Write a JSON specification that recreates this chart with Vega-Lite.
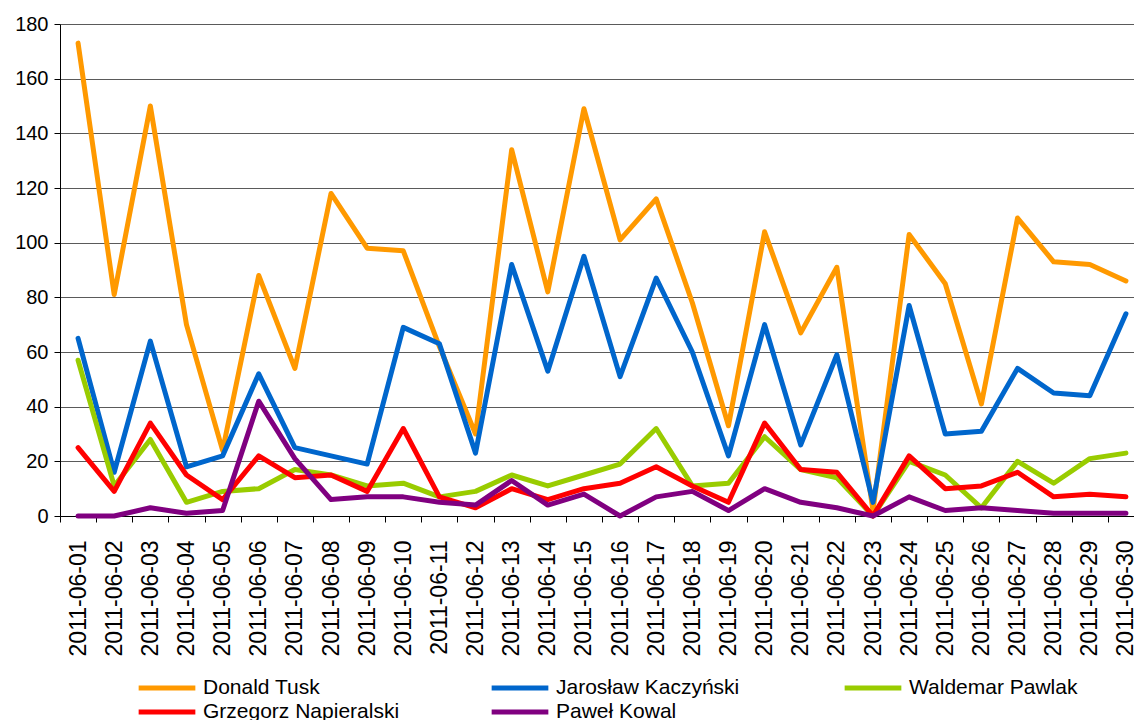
{
  "$schema": "https://vega.github.io/schema/vega-lite/v6.json",
  "width": 1074,
  "height": 492,
  "autosize": {"type": "none"},
  "padding": {"left": 60, "top": 24, "right": 0, "bottom": 204},
  "background": "white",
  "config": {"view": {"stroke": null}, "font": "Liberation Sans"},
  "datasets": {
    "raw": [
      {"date": "2011-06-01", "tusk": 173, "kacz": 65, "pawlak": 57, "napi": 25, "kowal": 0},
      {"date": "2011-06-02", "tusk": 81, "kacz": 16, "pawlak": 11, "napi": 9, "kowal": 0},
      {"date": "2011-06-03", "tusk": 150, "kacz": 64, "pawlak": 28, "napi": 34, "kowal": 3},
      {"date": "2011-06-04", "tusk": 70, "kacz": 18, "pawlak": 5, "napi": 15, "kowal": 1},
      {"date": "2011-06-05", "tusk": 24, "kacz": 22, "pawlak": 9, "napi": 6, "kowal": 2},
      {"date": "2011-06-06", "tusk": 88, "kacz": 52, "pawlak": 10, "napi": 22, "kowal": 42},
      {"date": "2011-06-07", "tusk": 54, "kacz": 25, "pawlak": 17, "napi": 14, "kowal": 21},
      {"date": "2011-06-08", "tusk": 118, "kacz": 22, "pawlak": 15, "napi": 15, "kowal": 6},
      {"date": "2011-06-09", "tusk": 98, "kacz": 19, "pawlak": 11, "napi": 9, "kowal": 7},
      {"date": "2011-06-10", "tusk": 97, "kacz": 69, "pawlak": 12, "napi": 32, "kowal": 7},
      {"date": "2011-06-11", "tusk": 62, "kacz": 63, "pawlak": 7, "napi": 7, "kowal": 5},
      {"date": "2011-06-12", "tusk": 30, "kacz": 23, "pawlak": 9, "napi": 3, "kowal": 4},
      {"date": "2011-06-13", "tusk": 134, "kacz": 92, "pawlak": 15, "napi": 10, "kowal": 13},
      {"date": "2011-06-14", "tusk": 82, "kacz": 53, "pawlak": 11, "napi": 6, "kowal": 4},
      {"date": "2011-06-15", "tusk": 149, "kacz": 95, "pawlak": 15, "napi": 10, "kowal": 8},
      {"date": "2011-06-16", "tusk": 101, "kacz": 51, "pawlak": 19, "napi": 12, "kowal": 0},
      {"date": "2011-06-17", "tusk": 116, "kacz": 87, "pawlak": 32, "napi": 18, "kowal": 7},
      {"date": "2011-06-18", "tusk": 78, "kacz": 60, "pawlak": 11, "napi": 11, "kowal": 9},
      {"date": "2011-06-19", "tusk": 33, "kacz": 22, "pawlak": 12, "napi": 5, "kowal": 2},
      {"date": "2011-06-20", "tusk": 104, "kacz": 70, "pawlak": 29, "napi": 34, "kowal": 10},
      {"date": "2011-06-21", "tusk": 67, "kacz": 26, "pawlak": 17, "napi": 17, "kowal": 5},
      {"date": "2011-06-22", "tusk": 91, "kacz": 59, "pawlak": 14, "napi": 16, "kowal": 3},
      {"date": "2011-06-23", "tusk": 2, "kacz": 5, "pawlak": 0, "napi": 0, "kowal": 0},
      {"date": "2011-06-24", "tusk": 103, "kacz": 77, "pawlak": 20, "napi": 22, "kowal": 7},
      {"date": "2011-06-25", "tusk": 85, "kacz": 30, "pawlak": 15, "napi": 10, "kowal": 2},
      {"date": "2011-06-26", "tusk": 41, "kacz": 31, "pawlak": 3, "napi": 11, "kowal": 3},
      {"date": "2011-06-27", "tusk": 109, "kacz": 54, "pawlak": 20, "napi": 16, "kowal": 2},
      {"date": "2011-06-28", "tusk": 93, "kacz": 45, "pawlak": 12, "napi": 7, "kowal": 1},
      {"date": "2011-06-29", "tusk": 92, "kacz": 44, "pawlak": 21, "napi": 8, "kowal": 1},
      {"date": "2011-06-30", "tusk": 86, "kacz": 74, "pawlak": 23, "napi": 7, "kowal": 1}
    ]
  },
  "data": {"name": "raw"},
  "transform": [
    {"fold": ["tusk", "kacz", "pawlak", "napi", "kowal"], "as": ["key", "value"]},
    {"lookup": "key", "from": {"data": {"values": [
      {"key": "tusk", "name": "Donald Tusk"},
      {"key": "kacz", "name": "Jarosław Kaczyński"},
      {"key": "pawlak", "name": "Waldemar Pawlak"},
      {"key": "napi", "name": "Grzegorz Napieralski"},
      {"key": "kowal", "name": "Paweł Kowal"}
    ]}, "key": "key", "fields": ["name"]}}
  ],
  "mark": {"type": "line", "strokeWidth": 5, "strokeJoin": "round", "strokeCap": "round"},
  "encoding": {
    "x": {
      "field": "date",
      "type": "ordinal",
      "sort": null,
      "scale": {"type": "band", "range": [0, 1084], "paddingInner": 0, "paddingOuter": 0},
      "axis": {
        "title": null,
        "labelAngle": -90,
        "labelAlign": "right",
        "labelBaseline": "middle",
        "labelFontSize": 23,
        "labelFont": "Liberation Sans",
        "labelColor": "black",
        "labelPadding": 18,
        "tickBand": "extent",
        "tickSize": 6,
        "tickColor": "black",
        "domainColor": "black",
        "grid": false
      }
    },
    "y": {
      "field": "value",
      "type": "quantitative",
      "scale": {"domain": [0, 180], "nice": false},
      "axis": {
        "title": null,
        "values": [0, 20, 40, 60, 80, 100, 120, 140, 160, 180],
        "labelFontSize": 20,
        "labelFont": "Liberation Sans",
        "labelColor": "black",
        "labelPadding": 6,
        "tickSize": 6,
        "tickColor": "black",
        "domainColor": "black",
        "grid": true,
        "gridColor": "#5a5a5a",
        "gridOpacity": 1
      }
    },
    "color": {
      "field": "name",
      "type": "nominal",
      "sort": null,
      "scale": {
        "domain": ["Donald Tusk", "Jarosław Kaczyński", "Waldemar Pawlak", "Grzegorz Napieralski", "Paweł Kowal"],
        "range": ["#FF9900", "#0066CC", "#99CC00", "#FF0000", "#800080"]
      },
      "legend": {
        "title": null,
        "orient": "none",
        "legendX": 94,
        "legendY": 651,
        "direction": "horizontal",
        "columns": 3,
        "symbolType": "M-2.7,0L2.7,0",
        "symbolSize": 441,
        "symbolStrokeWidth": 5,
        "labelFontSize": 21,
        "labelFont": "Liberation Sans",
        "labelColor": "black",
        "labelOffset": 23,
        "labelLimit": 400,
        "columnPadding": 81,
        "rowPadding": 1,
        "gridAlign": "all",
        "padding": 0
      }
    }
  }
}
